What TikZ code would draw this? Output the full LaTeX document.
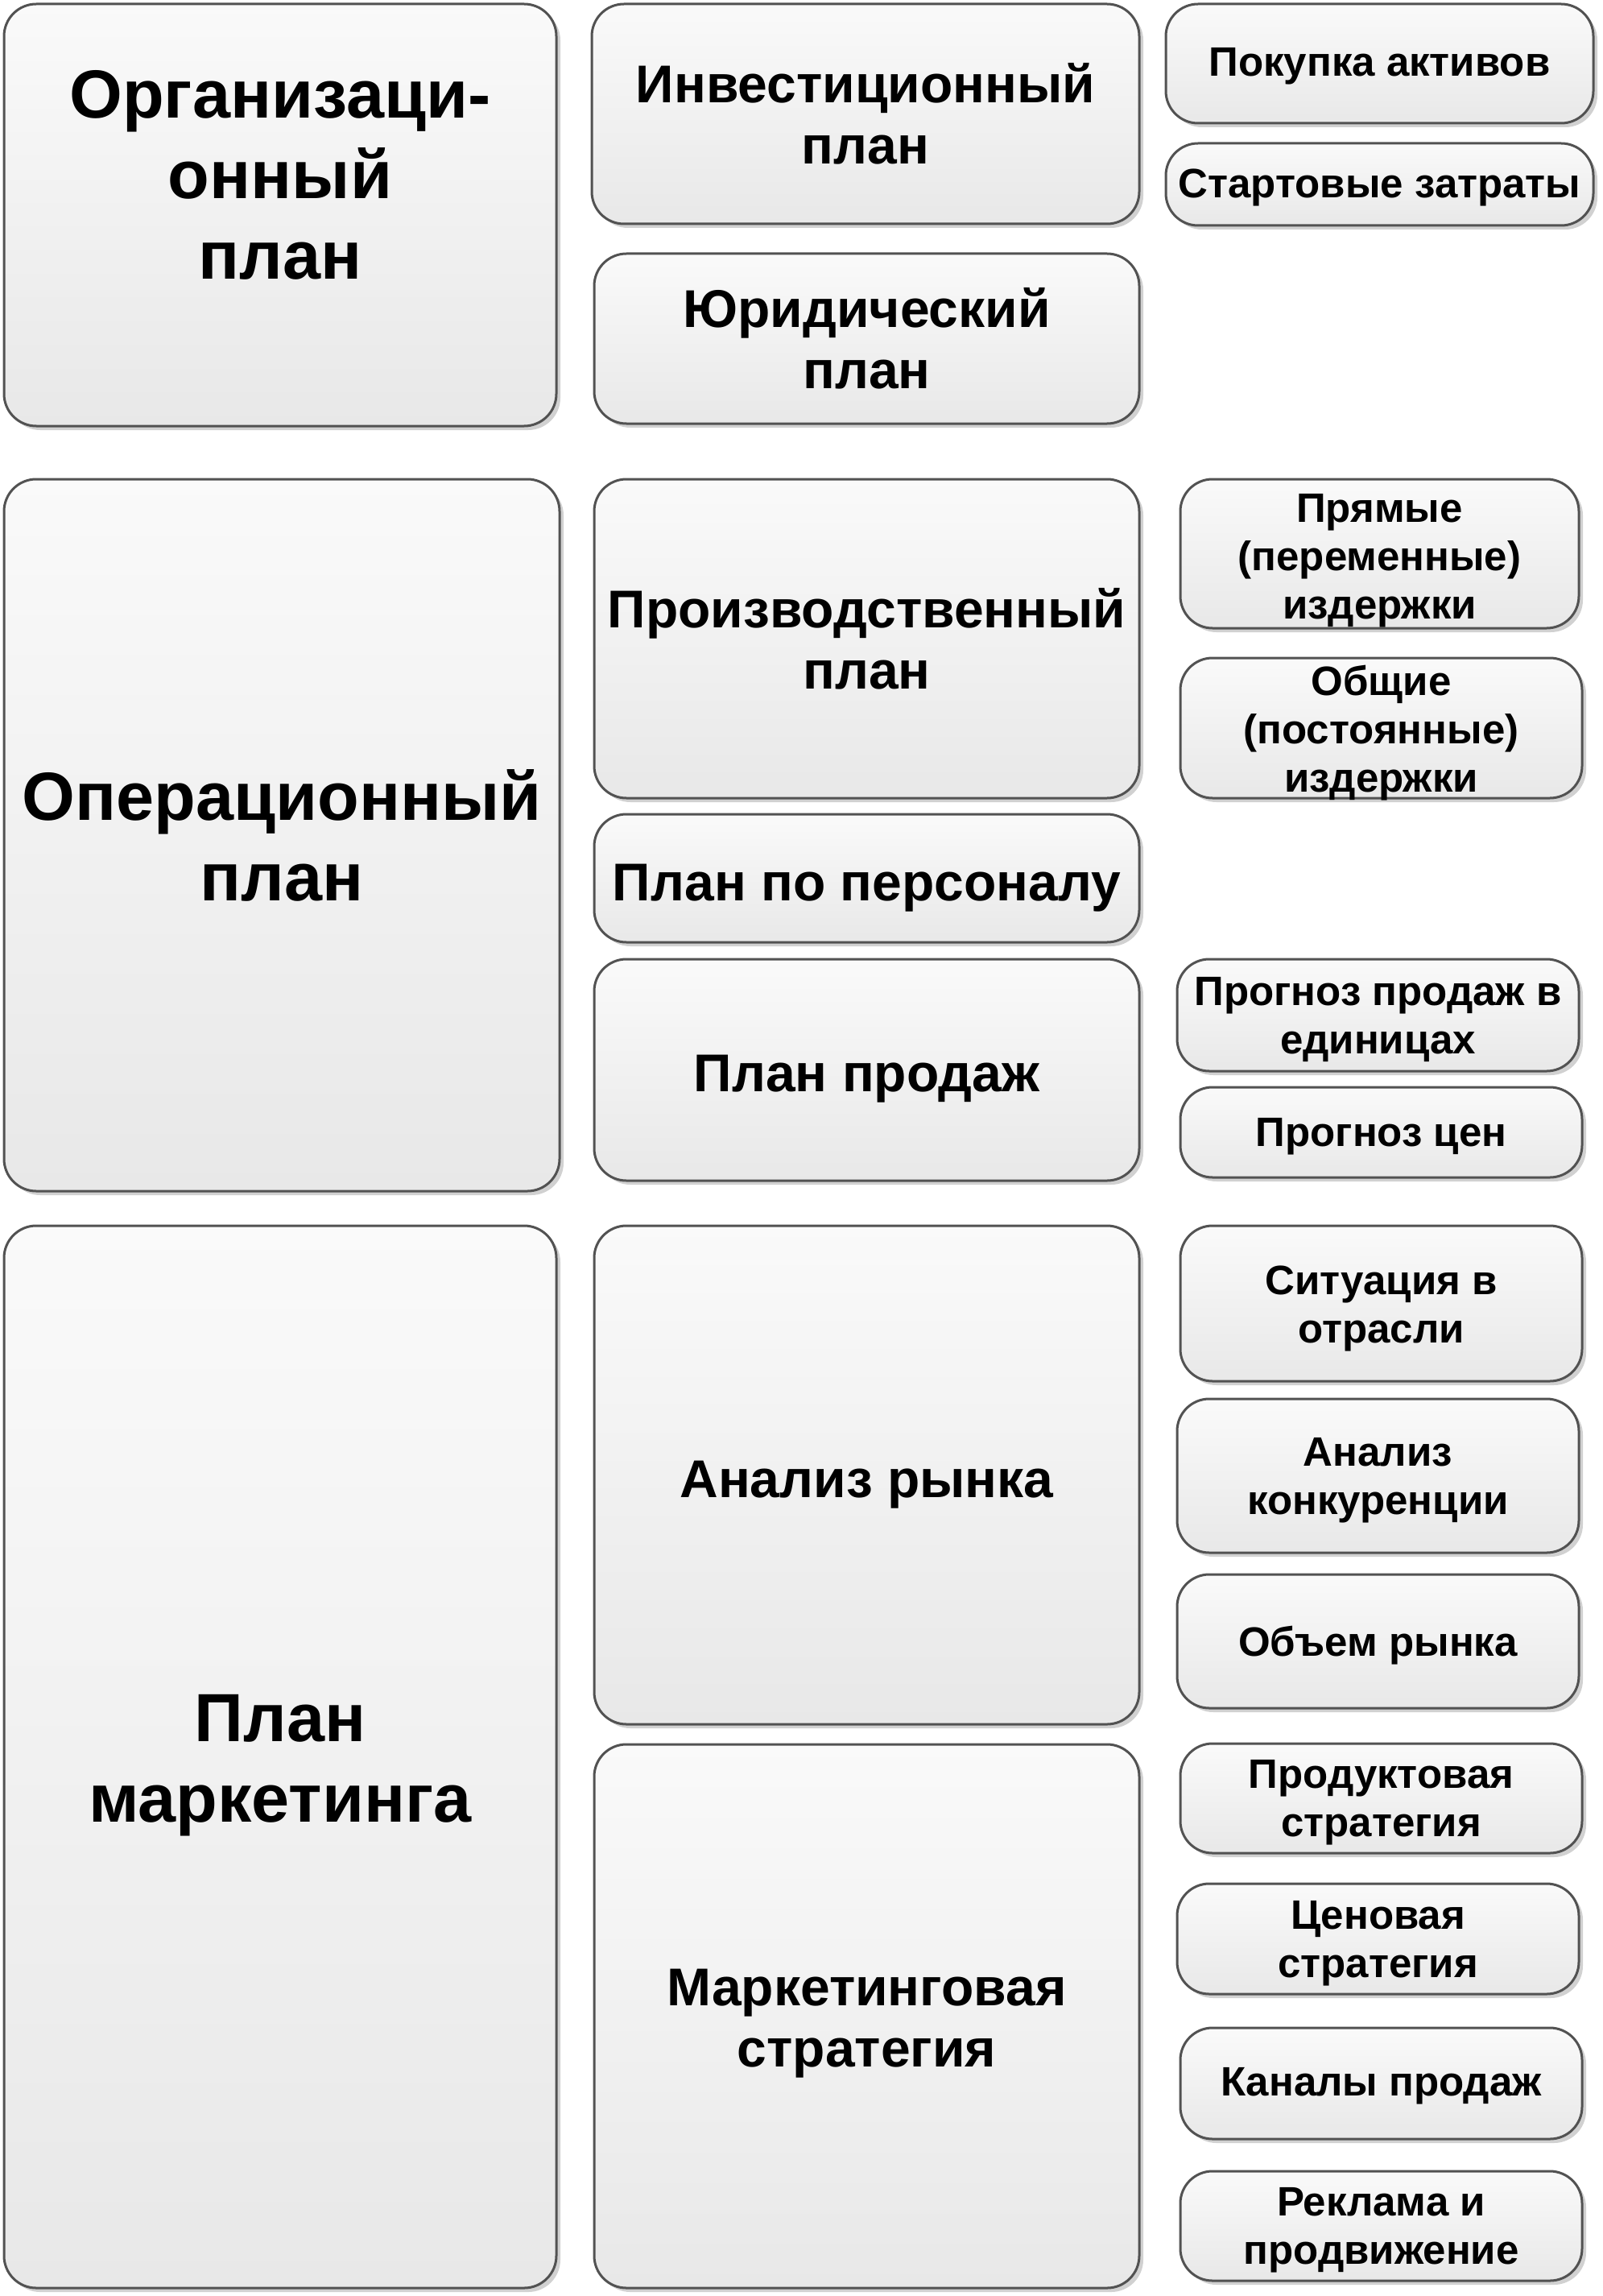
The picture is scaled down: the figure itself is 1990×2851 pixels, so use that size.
\documentclass[tikz,border=0pt]{standalone}
\usepackage{fontspec}
\setmainfont{Liberation Sans}
\usetikzlibrary{shadows}
% name, x1, y1, x2, y2, style, text shift (pt, downwards), text
\newcommand\bx[8]{\node[#6, minimum width={(#4-#2)*0.5pt}, minimum height={(#5-#3)*0.5pt},
  label={[#6txt, yshift=-#7pt]center:{#8}}] (#1) at ({(#2+#4)/2},{(#3+#5)/2}) {};}
\tikzset{
  plate/.style={draw=black!68, line width=1.5pt, rounded corners=20pt,
    top color=white!98!black, bottom color=white!91!black,
    drop shadow={shadow xshift=2.5pt, shadow yshift=-2.5pt, fill=black!18, opacity=1},
    inner sep=0pt},
  bigt/.style={plate}, midt/.style={plate}, smallt/.style={plate},
  basetxt/.style={align=center, inner sep=0pt, text=black},
  bigttxt/.style={basetxt, font=\bfseries\fontsize{42.3}{50}\selectfont},
  midttxt/.style={basetxt, font=\bfseries\fontsize{33}{38}\selectfont},
  smallttxt/.style={basetxt, font=\bfseries\fontsize{25.5}{30}\selectfont},
}
\begin{document}
\begin{tikzpicture}[x=0.5pt,y=-0.5pt]
\useasboundingbox (0,0) rectangle (1990,2851);
% group 1
\bx{org}{5}{5}{691}{529}{bigt}{0}{Организаци-\\онный\\план\\\mbox{}}
\bx{inv}{735}{5}{1415}{278}{midt}{0}{Инвестиционный\\план}
\bx{jur}{738}{315}{1415}{526}{midt}{0}{Юридический\\план}
\bx{buy}{1448}{5}{1979}{153}{smallt}{1.8}{Покупка активов}
\bx{start}{1448}{178}{1979}{280}{smallt}{1.8}{Стартовые затраты}
% group 2
\bx{op}{5}{595}{695}{1479}{bigt}{0}{Операционный\\план}
\bx{prod}{738}{595}{1415}{991}{midt}{0}{Производственный\\план}
\bx{pers}{738}{1011}{1415}{1170}{midt}{6}{План по персоналу}
\bx{sales}{738}{1191}{1415}{1466}{midt}{5.5}{План продаж}
\bx{direct}{1466}{595}{1961}{780}{smallt}{4.5}{Прямые\\(переменные)\\издержки}
\bx{fixed}{1466}{817}{1965}{991}{smallt}{3}{Общие\\(постоянные)\\издержки}
\bx{fcunits}{1462}{1191}{1961}{1330}{smallt}{2.7}{Прогноз продаж в\\единицах}
\bx{fcprice}{1466}{1350}{1965}{1462}{smallt}{2.7}{Прогноз цен}
% group 3
\bx{mkt}{5}{1522}{691}{2841}{bigt}{5.5}{План\\маркетинга}
\bx{market}{738}{1522}{1415}{2141}{midt}{6.3}{Анализ рынка}
\bx{mstrat}{738}{2166}{1415}{2841}{midt}{4.5}{Маркетинговая\\стратегия}
\bx{industry}{1466}{1522}{1965}{1715}{smallt}{3}{Ситуация в\\отрасли}
\bx{compet}{1462}{1737}{1961}{1928}{smallt}{2.7}{Анализ\\конкуренции}
\bx{volume}{1462}{1955}{1961}{2121}{smallt}{2.7}{Объем рынка}
\bx{product}{1466}{2165}{1965}{2301}{smallt}{2.7}{Продуктовая\\стратегия}
\bx{price}{1462}{2339}{1961}{2476}{smallt}{2.7}{Ценовая\\стратегия}
\bx{channels}{1466}{2518}{1965}{2656}{smallt}{1.5}{Каналы продаж}
\bx{promo}{1466}{2696}{1965}{2832}{smallt}{2.7}{Реклама и\\продвижение}
\end{tikzpicture}
\end{document}
